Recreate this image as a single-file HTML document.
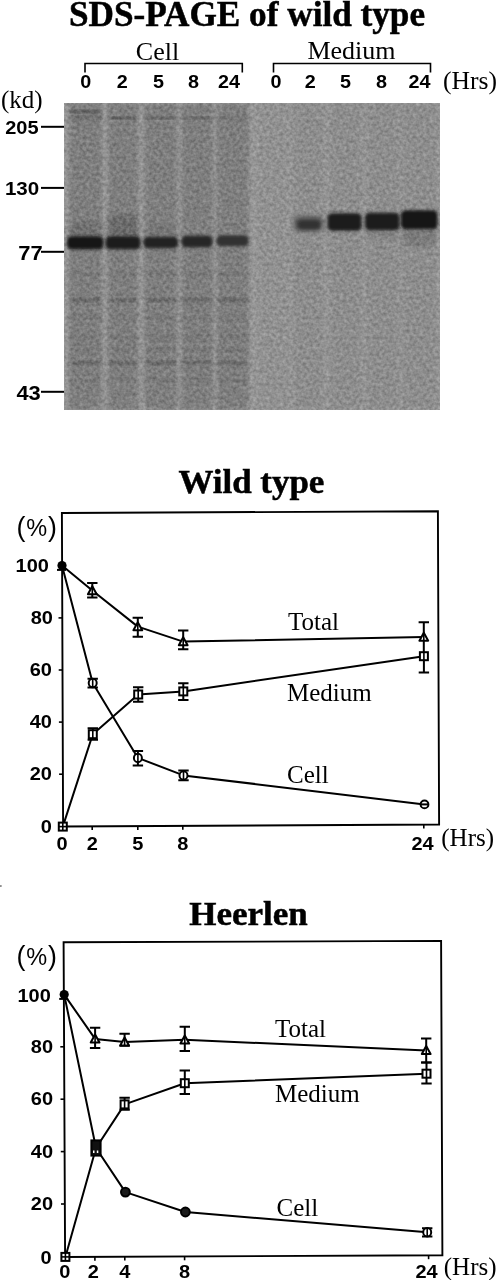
<!DOCTYPE html>
<html><head><meta charset="utf-8"><style>
html,body{margin:0;padding:0;background:#fff;}
body{width:497px;height:1280px;overflow:hidden;position:relative;}
svg{position:absolute;left:0;top:0;display:block;will-change:transform;}
</style></head><body>
<svg width="497" height="1280" viewBox="0 0 497 1280">
<text x="247" y="26" font-family='"Liberation Serif", serif' font-size="35.2" font-weight="bold" text-anchor="middle" stroke="#000" stroke-width="0.5">SDS-PAGE of wild type</text>
<text x="157.5" y="59.6" font-family='"Liberation Serif", serif' font-size="26" font-weight="normal" text-anchor="middle" >Cell</text>
<text x="351.5" y="59" font-family='"Liberation Serif", serif' font-size="26" font-weight="normal" text-anchor="middle" >Medium</text>
<path d="M85 72.5 V63.5 H242.3 V72.5" fill="none" stroke="#000" stroke-width="1.6"/>
<path d="M273.5 72.5 V63.5 H430.5 V72.5" fill="none" stroke="#000" stroke-width="1.6"/>
<text transform="translate(85.7 88.2) scale(1.07 1)" font-family='"Liberation Sans", sans-serif' font-size="18.5" font-weight="bold" text-anchor="middle" >0</text>
<text transform="translate(122.2 88.2) scale(1.07 1)" font-family='"Liberation Sans", sans-serif' font-size="18.5" font-weight="bold" text-anchor="middle" >2</text>
<text transform="translate(158.5 88.2) scale(1.07 1)" font-family='"Liberation Sans", sans-serif' font-size="18.5" font-weight="bold" text-anchor="middle" >5</text>
<text transform="translate(193.5 88.2) scale(1.07 1)" font-family='"Liberation Sans", sans-serif' font-size="18.5" font-weight="bold" text-anchor="middle" >8</text>
<text transform="translate(229.1 88.2) scale(1.07 1)" font-family='"Liberation Sans", sans-serif' font-size="18.5" font-weight="bold" text-anchor="middle" >24</text>
<text transform="translate(276 88.2) scale(1.07 1)" font-family='"Liberation Sans", sans-serif' font-size="18.5" font-weight="bold" text-anchor="middle" >0</text>
<text transform="translate(310.3 88.2) scale(1.07 1)" font-family='"Liberation Sans", sans-serif' font-size="18.5" font-weight="bold" text-anchor="middle" >2</text>
<text transform="translate(345.5 88.2) scale(1.07 1)" font-family='"Liberation Sans", sans-serif' font-size="18.5" font-weight="bold" text-anchor="middle" >5</text>
<text transform="translate(381.5 88.2) scale(1.07 1)" font-family='"Liberation Sans", sans-serif' font-size="18.5" font-weight="bold" text-anchor="middle" >8</text>
<text transform="translate(419.5 88.2) scale(1.07 1)" font-family='"Liberation Sans", sans-serif' font-size="18.5" font-weight="bold" text-anchor="middle" >24</text>
<text x="443" y="88.5" font-family='"Liberation Serif", serif' font-size="25.6" font-weight="normal" text-anchor="start" >(Hrs)</text>
<text x="1" y="108.2" font-family='"Liberation Serif", serif' font-size="25" font-weight="normal" text-anchor="start" >(kd)</text>
<text transform="translate(38.6 134.2) scale(1.07 1)" font-family='"Liberation Sans", sans-serif' font-size="18.7" font-weight="bold" text-anchor="end" >205</text>
<line x1="41" y1="126.8" x2="64" y2="126.8" stroke="#000" stroke-width="2"/>
<text transform="translate(39.2 194.6) scale(1.07 1)" font-family='"Liberation Sans", sans-serif' font-size="19.2" font-weight="bold" text-anchor="end" >130</text>
<line x1="41" y1="187.9" x2="64" y2="187.9" stroke="#000" stroke-width="2"/>
<text transform="translate(42.6 260) scale(1.07 1)" font-family='"Liberation Sans", sans-serif' font-size="20.5" font-weight="bold" text-anchor="end" >77</text>
<line x1="41" y1="251.8" x2="64" y2="251.8" stroke="#000" stroke-width="2"/>
<text transform="translate(40.8 399.9) scale(1.07 1)" font-family='"Liberation Sans", sans-serif' font-size="20.5" font-weight="bold" text-anchor="end" >43</text>
<line x1="41" y1="391.8" x2="64" y2="391.8" stroke="#000" stroke-width="2"/>
<defs><clipPath id="gc"><rect x="64" y="103" width="376" height="307"/></clipPath><filter id="b1" x="-20%" y="-50%" width="140%" height="200%"><feGaussianBlur stdDeviation="1.6"/></filter><filter id="b5" x="-20%" y="-60%" width="140%" height="220%"><feGaussianBlur stdDeviation="1.7"/></filter><filter id="b4" x="-20%" y="-60%" width="140%" height="220%"><feGaussianBlur stdDeviation="2.1"/></filter><filter id="b2" x="-20%" y="-50%" width="140%" height="200%"><feGaussianBlur stdDeviation="2.5"/></filter><filter id="b3" x="-20%" y="-20%" width="140%" height="140%"><feGaussianBlur stdDeviation="2"/></filter><filter id="nz" x="0" y="0" width="100%" height="100%" color-interpolation-filters="sRGB"><feTurbulence type="fractalNoise" baseFrequency="0.3" numOctaves="2" seed="7" result="t"/><feColorMatrix in="t" type="matrix" values="1 0 0 0 0  1 0 0 0 0  1 0 0 0 0  0 0 0 0 1" result="g"/><feComposite in="SourceGraphic" in2="g" operator="arithmetic" k1="0" k2="1" k3="0.26" k4="-0.13"/></filter></defs><g clip-path="url(#gc)"><g filter="url(#nz)"><rect x="64" y="103" width="376" height="307" fill="#979797"/><rect x="69" y="103" width="33" height="307" fill="#000" opacity="0.16" filter="url(#b3)"/><rect x="108" y="103" width="30" height="307" fill="#000" opacity="0.16" filter="url(#b3)"/><rect x="144.5" y="103" width="32.5" height="307" fill="#000" opacity="0.16" filter="url(#b3)"/><rect x="181.5" y="103" width="31.5" height="307" fill="#000" opacity="0.16" filter="url(#b3)"/><rect x="217" y="103" width="32" height="307" fill="#000" opacity="0.16" filter="url(#b3)"/><rect x="293" y="103" width="31" height="307" fill="#000" opacity="0.06" filter="url(#b3)"/><rect x="329" y="103" width="33" height="307" fill="#000" opacity="0.06" filter="url(#b3)"/><rect x="366" y="103" width="33" height="307" fill="#000" opacity="0.06" filter="url(#b3)"/><rect x="402" y="103" width="35" height="307" fill="#000" opacity="0.06" filter="url(#b3)"/><rect x="257" y="103" width="33" height="307" fill="#000" opacity="0.03" filter="url(#b3)"/><rect x="70" y="222" width="31" height="16" fill="#000" opacity="0.1" filter="url(#b4)"/><rect x="108" y="215" width="30" height="23" fill="#000" opacity="0.14" filter="url(#b4)"/><rect x="146" y="225" width="30" height="13" fill="#000" opacity="0.06" filter="url(#b4)"/><rect x="403" y="228" width="33" height="18" fill="#000" opacity="0.12" filter="url(#b4)"/><rect x="367" y="229" width="31" height="11" fill="#000" opacity="0.06" filter="url(#b4)"/><rect x="70" y="110.5" width="31" height="2" fill="#000" opacity="0.45" filter="url(#b1)"/><rect x="70" y="116.5" width="31" height="2" fill="#000" opacity="0.3" filter="url(#b1)"/><rect x="109" y="117" width="28" height="2" fill="#000" opacity="0.35" filter="url(#b1)"/><rect x="145" y="117" width="31" height="2" fill="#000" opacity="0.3" filter="url(#b1)"/><rect x="182" y="117" width="30" height="2" fill="#000" opacity="0.25" filter="url(#b1)"/><rect x="218" y="117" width="30" height="2" fill="#000" opacity="0.15" filter="url(#b1)"/><rect x="70" y="272.5" width="31" height="3" fill="#000" opacity="0.08" filter="url(#b1)"/><rect x="109" y="272.5" width="28" height="3" fill="#000" opacity="0.08" filter="url(#b1)"/><rect x="145.5" y="272.5" width="30.5" height="3" fill="#000" opacity="0.08" filter="url(#b1)"/><rect x="182.5" y="272.5" width="29.5" height="3" fill="#000" opacity="0.08" filter="url(#b1)"/><rect x="218" y="272.5" width="30" height="3" fill="#000" opacity="0.08" filter="url(#b1)"/><rect x="70" y="298.5" width="31" height="3" fill="#000" opacity="0.24" filter="url(#b1)"/><rect x="109" y="298.5" width="28" height="3" fill="#000" opacity="0.24" filter="url(#b1)"/><rect x="145.5" y="298.5" width="30.5" height="3" fill="#000" opacity="0.24" filter="url(#b1)"/><rect x="182.5" y="298.5" width="29.5" height="3" fill="#000" opacity="0.24" filter="url(#b1)"/><rect x="218" y="298.5" width="30" height="3" fill="#000" opacity="0.24" filter="url(#b1)"/><rect x="70" y="316.5" width="31" height="3" fill="#000" opacity="0.07" filter="url(#b1)"/><rect x="109" y="316.5" width="28" height="3" fill="#000" opacity="0.07" filter="url(#b1)"/><rect x="145.5" y="316.5" width="30.5" height="3" fill="#000" opacity="0.07" filter="url(#b1)"/><rect x="182.5" y="316.5" width="29.5" height="3" fill="#000" opacity="0.07" filter="url(#b1)"/><rect x="218" y="316.5" width="30" height="3" fill="#000" opacity="0.07" filter="url(#b1)"/><rect x="70" y="335.5" width="31" height="3" fill="#000" opacity="0.08" filter="url(#b1)"/><rect x="109" y="335.5" width="28" height="3" fill="#000" opacity="0.08" filter="url(#b1)"/><rect x="145.5" y="335.5" width="30.5" height="3" fill="#000" opacity="0.08" filter="url(#b1)"/><rect x="182.5" y="335.5" width="29.5" height="3" fill="#000" opacity="0.08" filter="url(#b1)"/><rect x="218" y="335.5" width="30" height="3" fill="#000" opacity="0.08" filter="url(#b1)"/><rect x="70" y="348.5" width="31" height="3" fill="#000" opacity="0.08" filter="url(#b1)"/><rect x="109" y="348.5" width="28" height="3" fill="#000" opacity="0.08" filter="url(#b1)"/><rect x="145.5" y="348.5" width="30.5" height="3" fill="#000" opacity="0.08" filter="url(#b1)"/><rect x="182.5" y="348.5" width="29.5" height="3" fill="#000" opacity="0.08" filter="url(#b1)"/><rect x="218" y="348.5" width="30" height="3" fill="#000" opacity="0.08" filter="url(#b1)"/><rect x="70" y="361.5" width="31" height="3" fill="#000" opacity="0.24" filter="url(#b1)"/><rect x="109" y="361.5" width="28" height="3" fill="#000" opacity="0.24" filter="url(#b1)"/><rect x="145.5" y="361.5" width="30.5" height="3" fill="#000" opacity="0.24" filter="url(#b1)"/><rect x="182.5" y="361.5" width="29.5" height="3" fill="#000" opacity="0.24" filter="url(#b1)"/><rect x="218" y="361.5" width="30" height="3" fill="#000" opacity="0.24" filter="url(#b1)"/><rect x="70" y="378.5" width="31" height="3" fill="#000" opacity="0.07" filter="url(#b1)"/><rect x="109" y="378.5" width="28" height="3" fill="#000" opacity="0.07" filter="url(#b1)"/><rect x="145.5" y="378.5" width="30.5" height="3" fill="#000" opacity="0.07" filter="url(#b1)"/><rect x="182.5" y="378.5" width="29.5" height="3" fill="#000" opacity="0.07" filter="url(#b1)"/><rect x="218" y="378.5" width="30" height="3" fill="#000" opacity="0.07" filter="url(#b1)"/></g><rect x="67" y="236.2" width="36.5" height="13.1" rx="4.5" fill="#151515" filter="url(#b5)"/><rect x="105.5" y="236.2" width="35.0" height="13.1" rx="4.5" fill="#1a1a1a" filter="url(#b5)"/><rect x="143.5" y="236.7" width="34.5" height="11.6" rx="4.5" fill="#222" filter="url(#b5)"/><rect x="181.5" y="235.7" width="31.0" height="11.6" rx="4.5" fill="#262626" filter="url(#b5)"/><rect x="216.5" y="235.2" width="32.0" height="11.1" rx="4.5" fill="#303030" filter="url(#b5)"/><rect x="327.5" y="213.2" width="34.0" height="17.6" rx="4.5" fill="#1c1c1c" filter="url(#b5)"/><rect x="365" y="212.7" width="34.5" height="17.6" rx="4.5" fill="#1a1a1a" filter="url(#b5)"/><rect x="401" y="210.2" width="36.5" height="19.1" rx="4.5" fill="#181818" filter="url(#b5)"/><rect x="294" y="216.5" width="29" height="14.5" rx="5" fill="#505050" filter="url(#b2)"/><rect x="298" y="220.5" width="22" height="8.5" rx="4" fill="#333" filter="url(#b1)"/></g>
<text transform="translate(251.4 492.5) scale(1.04 1)" font-family='"Liberation Serif", serif' font-size="33.6" font-weight="bold" text-anchor="middle" stroke="#000" stroke-width="0.5">Wild type</text>
<path d="M61.9 513 L437.9 511.2 L439.1 824.5 L63.1 826.5 Z" fill="none" stroke="#000" stroke-width="1.9" stroke-linejoin="miter"/>
<line x1="59.1" y1="774.2" x2="62.9" y2="774.2" stroke="#000" stroke-width="1.6"/>
<line x1="58.9" y1="722.1" x2="62.7" y2="722.1" stroke="#000" stroke-width="1.6"/>
<line x1="58.7" y1="670.0" x2="62.5" y2="670.0" stroke="#000" stroke-width="1.6"/>
<line x1="58.5" y1="617.9" x2="62.3" y2="617.9" stroke="#000" stroke-width="1.6"/>
<line x1="92.2" y1="826.3" x2="92.2" y2="830.1" stroke="#000" stroke-width="1.6"/>
<line x1="137.8" y1="826.1" x2="137.8" y2="829.9" stroke="#000" stroke-width="1.6"/>
<line x1="182.8" y1="825.9" x2="182.8" y2="829.7" stroke="#000" stroke-width="1.6"/>
<line x1="423.8" y1="824.6" x2="423.8" y2="828.4" stroke="#000" stroke-width="1.6"/>
<text transform="translate(48.9 571.6999999999999) scale(1.07 1)" font-family='"Liberation Sans", sans-serif' font-size="18.7" font-weight="bold" text-anchor="end" >100</text>
<text transform="translate(52.9 623.8) scale(1.07 1)" font-family='"Liberation Sans", sans-serif' font-size="18.7" font-weight="bold" text-anchor="end" >80</text>
<text transform="translate(51.9 675.9) scale(1.07 1)" font-family='"Liberation Sans", sans-serif' font-size="18.7" font-weight="bold" text-anchor="end" >60</text>
<text transform="translate(52 727.9999999999999) scale(1.07 1)" font-family='"Liberation Sans", sans-serif' font-size="18.7" font-weight="bold" text-anchor="end" >40</text>
<text transform="translate(52 780.0999999999999) scale(1.07 1)" font-family='"Liberation Sans", sans-serif' font-size="18.7" font-weight="bold" text-anchor="end" >20</text>
<text transform="translate(51.9 832.5) scale(1.07 1)" font-family='"Liberation Sans", sans-serif' font-size="18.7" font-weight="bold" text-anchor="end" >0</text>
<text transform="translate(62 849.5) scale(1.07 1)" font-family='"Liberation Sans", sans-serif' font-size="18.7" font-weight="bold" text-anchor="middle" >0</text>
<text transform="translate(92.2 849.5) scale(1.07 1)" font-family='"Liberation Sans", sans-serif' font-size="18.7" font-weight="bold" text-anchor="middle" >2</text>
<text transform="translate(137.8 849.5) scale(1.07 1)" font-family='"Liberation Sans", sans-serif' font-size="18.7" font-weight="bold" text-anchor="middle" >5</text>
<text transform="translate(182.8 849.5) scale(1.07 1)" font-family='"Liberation Sans", sans-serif' font-size="18.7" font-weight="bold" text-anchor="middle" >8</text>
<text transform="translate(422.6 849.5) scale(1.07 1)" font-family='"Liberation Sans", sans-serif' font-size="18.7" font-weight="bold" text-anchor="middle" >24</text>
<text x="441.3" y="846" font-family='"Liberation Serif", serif' font-size="25" font-weight="normal" text-anchor="start" >(Hrs)</text>
<text x="16.5" y="535.5" font-family='"Liberation Sans", sans-serif' font-size="26.8" font-weight="normal" text-anchor="start" >(<tspan font-size="23.5" dx="0.8">%</tspan><tspan dx="0.8">)</tspan></text>
<path d="M62.8 826.6 L92.8 734.2 L138.2 694.5 L183.3 691.4 L423.9 656.2" fill="none" stroke="#000" stroke-width="2.0" stroke-linejoin="round"/>
<path d="M62.0 565.6 L92.7 683.0 L137.9 757.9 L183.5 775.4 L424.5 804.4" fill="none" stroke="#000" stroke-width="2.0" stroke-linejoin="round"/>
<path d="M62.0 565.6 L92.3 590.6 L137.8 626.6 L183.2 641.6 L423.8 637.0" fill="none" stroke="#000" stroke-width="2.0" stroke-linejoin="round"/>
<rect x="58.8" y="822.6" width="8" height="8" fill="#fff" stroke="#000" stroke-width="2"/><line x1="62.8" y1="822.6" x2="62.8" y2="830.6" stroke="#000" stroke-width="1.6"/><line x1="58.8" y1="826.6" x2="66.8" y2="826.6" stroke="#000" stroke-width="1.6"/>
<path d="M92.8 728.3 V739.8 M87.6 728.3 H98.0 M87.6 739.8 H98.0" stroke="#000" stroke-width="2" fill="none"/><rect x="88.8" y="730.2" width="8" height="8" fill="#fff" stroke="#000" stroke-width="2"/><line x1="92.8" y1="730.2" x2="92.8" y2="738.2" stroke="#000" stroke-width="1.6"/>
<path d="M138.2 687.2 V701.7 M133.0 687.2 H143.4 M133.0 701.7 H143.4" stroke="#000" stroke-width="2" fill="none"/><rect x="134.2" y="690.5" width="8" height="8" fill="#fff" stroke="#000" stroke-width="2"/><line x1="138.2" y1="690.5" x2="138.2" y2="698.5" stroke="#000" stroke-width="1.6"/>
<path d="M183.3 683.3 V699.9 M178.1 683.3 H188.5 M178.1 699.9 H188.5" stroke="#000" stroke-width="2" fill="none"/><rect x="179.3" y="687.4" width="8" height="8" fill="#fff" stroke="#000" stroke-width="2"/><line x1="183.3" y1="687.4" x2="183.3" y2="695.4" stroke="#000" stroke-width="1.6"/>
<path d="M423.9 656.2 V672.5 M418.7 672.5 H429.1" stroke="#000" stroke-width="2" fill="none"/><rect x="419.9" y="652.2" width="8" height="8" fill="#fff" stroke="#000" stroke-width="2"/><line x1="423.9" y1="652.2" x2="423.9" y2="660.2" stroke="#000" stroke-width="1.6"/>
<path d="M92.7 678.7 V687.5 M87.5 678.7 H97.9 M87.5 687.5 H97.9" stroke="#000" stroke-width="2" fill="none"/><ellipse cx="92.7" cy="683.0" rx="4" ry="4.2" fill="#fff" stroke="#000" stroke-width="2"/><line x1="92.7" y1="679.0" x2="92.7" y2="687.0" stroke="#000" stroke-width="1.6"/>
<path d="M137.9 750.9 V765.4 M132.7 750.9 H143.1 M132.7 765.4 H143.1" stroke="#000" stroke-width="2" fill="none"/><ellipse cx="137.9" cy="757.9" rx="4" ry="4.2" fill="#fff" stroke="#000" stroke-width="2"/><line x1="137.9" y1="753.9" x2="137.9" y2="761.9" stroke="#000" stroke-width="1.6"/>
<path d="M183.5 770.6 V780.2 M178.3 770.6 H188.7 M178.3 780.2 H188.7" stroke="#000" stroke-width="2" fill="none"/><ellipse cx="183.5" cy="775.4" rx="4" ry="4.2" fill="#fff" stroke="#000" stroke-width="2"/><line x1="183.5" y1="771.4" x2="183.5" y2="779.4" stroke="#000" stroke-width="1.6"/>
<circle cx="424.5" cy="804.4" r="3.9" fill="#fff" stroke="#000" stroke-width="2"/><line x1="420.5" y1="804.4" x2="428.5" y2="804.4" stroke="#000" stroke-width="2"/>
<path d="M57.0 569.9 H66.0" stroke="#000" stroke-width="2"/><circle cx="62.0" cy="565.6" r="4.6" fill="#000"/>
<path d="M92.3 583.0 V597.5 M87.1 583.0 H97.5 M87.1 597.5 H97.5" stroke="#000" stroke-width="2" fill="none"/><path d="M92.3 586.3 L96.7 594.3 L87.9 594.3 Z" fill="#fff" stroke="#000" stroke-width="2" stroke-linejoin="round"/><line x1="92.3" y1="586.6" x2="92.3" y2="594.3" stroke="#000" stroke-width="1.6"/>
<path d="M137.8 617.7 V636.7 M132.6 617.7 H143.0 M132.6 636.7 H143.0" stroke="#000" stroke-width="2" fill="none"/><path d="M137.8 622.3 L142.2 630.3 L133.4 630.3 Z" fill="#fff" stroke="#000" stroke-width="2" stroke-linejoin="round"/><line x1="137.8" y1="622.6" x2="137.8" y2="630.3" stroke="#000" stroke-width="1.6"/>
<path d="M183.2 630.5 V649.2 M178.0 630.5 H188.4 M178.0 649.2 H188.4" stroke="#000" stroke-width="2" fill="none"/><path d="M183.2 637.3 L187.6 645.3 L178.8 645.3 Z" fill="#fff" stroke="#000" stroke-width="2" stroke-linejoin="round"/><line x1="183.2" y1="637.6" x2="183.2" y2="645.3" stroke="#000" stroke-width="1.6"/>
<path d="M423.8 622.2 V652.0 M418.6 622.2 H429.0" stroke="#000" stroke-width="2" fill="none"/><path d="M423.8 632.7 L428.2 640.7 L419.4 640.7 Z" fill="#fff" stroke="#000" stroke-width="2" stroke-linejoin="round"/><line x1="423.8" y1="633.0" x2="423.8" y2="640.7" stroke="#000" stroke-width="1.6"/>
<text x="288" y="630.2" font-family='"Liberation Serif", serif' font-size="25" font-weight="normal" text-anchor="start" >Total</text>
<text x="287" y="701.2" font-family='"Liberation Serif", serif' font-size="25" font-weight="normal" text-anchor="start" >Medium</text>
<text x="287" y="782.6" font-family='"Liberation Serif", serif' font-size="25" font-weight="normal" text-anchor="start" >Cell</text>
<text transform="translate(248.4 925.1) scale(1.04 1)" font-family='"Liberation Serif", serif' font-size="33.6" font-weight="bold" text-anchor="middle" stroke="#000" stroke-width="0.5">Heerlen</text>
<path d="M63.6 942.3 L441.1 940.9 L442.4 1255.3 L65.1 1257 Z" fill="none" stroke="#000" stroke-width="1.9" stroke-linejoin="miter"/>
<line x1="61.0" y1="1204.0" x2="64.8" y2="1204.0" stroke="#000" stroke-width="1.6"/>
<line x1="60.8" y1="1151.6" x2="64.6" y2="1151.6" stroke="#000" stroke-width="1.6"/>
<line x1="60.5" y1="1099.2" x2="64.3" y2="1099.2" stroke="#000" stroke-width="1.6"/>
<line x1="60.3" y1="1046.8" x2="64.1" y2="1046.8" stroke="#000" stroke-width="1.6"/>
<line x1="94.9" y1="1256.9" x2="94.9" y2="1260.7" stroke="#000" stroke-width="1.6"/>
<line x1="124.8" y1="1256.7" x2="124.8" y2="1260.5" stroke="#000" stroke-width="1.6"/>
<line x1="184.6" y1="1256.5" x2="184.6" y2="1260.3" stroke="#000" stroke-width="1.6"/>
<line x1="428.6" y1="1255.4" x2="428.6" y2="1259.2" stroke="#000" stroke-width="1.6"/>
<text transform="translate(50.8 1001.6000000000001) scale(1.07 1)" font-family='"Liberation Sans", sans-serif' font-size="18.7" font-weight="bold" text-anchor="end" >100</text>
<text transform="translate(53.1 1052.7000000000003) scale(1.07 1)" font-family='"Liberation Sans", sans-serif' font-size="18.7" font-weight="bold" text-anchor="end" >80</text>
<text transform="translate(53.1 1105.1000000000001) scale(1.07 1)" font-family='"Liberation Sans", sans-serif' font-size="18.7" font-weight="bold" text-anchor="end" >60</text>
<text transform="translate(53.1 1157.5000000000002) scale(1.07 1)" font-family='"Liberation Sans", sans-serif' font-size="18.7" font-weight="bold" text-anchor="end" >40</text>
<text transform="translate(53.1 1209.9) scale(1.07 1)" font-family='"Liberation Sans", sans-serif' font-size="18.7" font-weight="bold" text-anchor="end" >20</text>
<text transform="translate(51.7 1263.9) scale(1.07 1)" font-family='"Liberation Sans", sans-serif' font-size="18.7" font-weight="bold" text-anchor="end" >0</text>
<text transform="translate(64.8 1278) scale(1.07 1)" font-family='"Liberation Sans", sans-serif' font-size="18.7" font-weight="bold" text-anchor="middle" >0</text>
<text transform="translate(93.4 1278) scale(1.07 1)" font-family='"Liberation Sans", sans-serif' font-size="18.7" font-weight="bold" text-anchor="middle" >2</text>
<text transform="translate(124.8 1278) scale(1.07 1)" font-family='"Liberation Sans", sans-serif' font-size="18.7" font-weight="bold" text-anchor="middle" >4</text>
<text transform="translate(184.6 1278) scale(1.07 1)" font-family='"Liberation Sans", sans-serif' font-size="18.7" font-weight="bold" text-anchor="middle" >8</text>
<text transform="translate(426.6 1278) scale(1.07 1)" font-family='"Liberation Sans", sans-serif' font-size="18.7" font-weight="bold" text-anchor="middle" >24</text>
<text x="443.8" y="1274.5" font-family='"Liberation Serif", serif' font-size="25" font-weight="normal" text-anchor="start" >(Hrs)</text>
<text x="16.5" y="964.8" font-family='"Liberation Sans", sans-serif' font-size="26.8" font-weight="normal" text-anchor="start" >(<tspan font-size="23.5" dx="0.8">%</tspan><tspan dx="0.8">)</tspan></text>
<path d="M65.4 1256.9 L96.0 1148.0 L124.6 1104.4 L184.8 1083.2 L426.5 1073.7" fill="none" stroke="#000" stroke-width="2.0" stroke-linejoin="round"/>
<path d="M64.2 994.6 L96.0 1148.0 L125.4 1192.1 L185.4 1212.0 L427.2 1232.2" fill="none" stroke="#000" stroke-width="2.0" stroke-linejoin="round"/>
<path d="M64.2 994.6 L95.1 1038.9 L124.6 1041.9 L184.8 1039.8 L426.2 1050.4" fill="none" stroke="#000" stroke-width="2.0" stroke-linejoin="round"/>
<rect x="61.4" y="1252.9" width="8" height="8" fill="#fff" stroke="#000" stroke-width="2"/><line x1="65.4" y1="1252.9" x2="65.4" y2="1260.9" stroke="#000" stroke-width="1.6"/><line x1="61.4" y1="1256.9" x2="69.4" y2="1256.9" stroke="#000" stroke-width="1.6"/>
<rect x="91.4" y="1140.4" width="9.2" height="15.2" fill="#111" stroke="#000" stroke-width="2"/><rect x="93.0" y="1150.5" width="1.5" height="2.5" fill="#fff"/><rect x="96.8" y="1150.5" width="1.5" height="2.5" fill="#fff"/>
<path d="M124.6 1097.7 V1109.8 M119.4 1097.7 H129.8 M119.4 1109.8 H129.8" stroke="#000" stroke-width="2" fill="none"/><rect x="120.6" y="1100.4" width="8" height="8" fill="#fff" stroke="#000" stroke-width="2"/><line x1="124.6" y1="1100.4" x2="124.6" y2="1108.4" stroke="#000" stroke-width="1.6"/>
<path d="M184.8 1070.6 V1094.1 M179.6 1070.6 H190.0 M179.6 1094.1 H190.0" stroke="#000" stroke-width="2" fill="none"/><rect x="180.8" y="1079.2" width="8" height="8" fill="#fff" stroke="#000" stroke-width="2"/><line x1="184.8" y1="1079.2" x2="184.8" y2="1087.2" stroke="#000" stroke-width="1.6"/>
<path d="M426.5 1062.6 V1083.5 M421.3 1062.6 H431.7 M421.3 1083.5 H431.7" stroke="#000" stroke-width="2" fill="none"/><rect x="422.5" y="1069.7" width="8" height="8" fill="#fff" stroke="#000" stroke-width="2"/><line x1="426.5" y1="1069.7" x2="426.5" y2="1077.7" stroke="#000" stroke-width="1.6"/>
<circle cx="125.4" cy="1192.1" r="4.4" fill="#1a1a1a" stroke="#000" stroke-width="2"/>
<circle cx="185.4" cy="1212.0" r="4.4" fill="#1a1a1a" stroke="#000" stroke-width="2"/>
<path d="M427.2 1228.2 V1236.4 M422.0 1228.2 H432.4 M422.0 1236.4 H432.4" stroke="#000" stroke-width="2" fill="none"/><ellipse cx="427.2" cy="1232.2" rx="4" ry="4.2" fill="#fff" stroke="#000" stroke-width="2"/><line x1="427.2" y1="1228.2" x2="427.2" y2="1236.2" stroke="#000" stroke-width="1.6"/>
<path d="M59.2 998.9 H68.2" stroke="#000" stroke-width="2"/><circle cx="64.2" cy="994.6" r="4.6" fill="#000"/>
<path d="M95.1 1027.7 V1047.9 M89.9 1027.7 H100.3 M89.9 1047.9 H100.3" stroke="#000" stroke-width="2" fill="none"/><path d="M95.1 1034.6 L99.5 1042.6 L90.7 1042.6 Z" fill="#fff" stroke="#000" stroke-width="2" stroke-linejoin="round"/><line x1="95.1" y1="1034.9" x2="95.1" y2="1042.6" stroke="#000" stroke-width="1.6"/>
<path d="M124.6 1033.7 V1045.8 M119.4 1033.7 H129.8 M119.4 1045.8 H129.8" stroke="#000" stroke-width="2" fill="none"/><path d="M124.6 1037.6 L129.0 1045.6 L120.2 1045.6 Z" fill="#fff" stroke="#000" stroke-width="2" stroke-linejoin="round"/><line x1="124.6" y1="1037.9" x2="124.6" y2="1045.6" stroke="#000" stroke-width="1.6"/>
<path d="M184.8 1026.8 V1050.9 M179.6 1026.8 H190.0 M179.6 1050.9 H190.0" stroke="#000" stroke-width="2" fill="none"/><path d="M184.8 1035.5 L189.2 1043.5 L180.4 1043.5 Z" fill="#fff" stroke="#000" stroke-width="2" stroke-linejoin="round"/><line x1="184.8" y1="1035.8" x2="184.8" y2="1043.5" stroke="#000" stroke-width="1.6"/>
<path d="M426.2 1038.5 V1062.6 M421.0 1038.5 H431.4 M421.0 1062.6 H431.4" stroke="#000" stroke-width="2" fill="none"/><path d="M426.2 1046.1 L430.6 1054.1 L421.8 1054.1 Z" fill="#fff" stroke="#000" stroke-width="2" stroke-linejoin="round"/><line x1="426.2" y1="1046.4" x2="426.2" y2="1054.1" stroke="#000" stroke-width="1.6"/>
<text x="275" y="1037" font-family='"Liberation Serif", serif' font-size="25" font-weight="normal" text-anchor="start" >Total</text>
<text x="275" y="1102" font-family='"Liberation Serif", serif' font-size="25" font-weight="normal" text-anchor="start" >Medium</text>
<text x="276.5" y="1216.2" font-family='"Liberation Serif", serif' font-size="25" font-weight="normal" text-anchor="start" >Cell</text>
<circle cx="0.8" cy="886" r="1.1" fill="#888"/>
</svg>
</body></html>
